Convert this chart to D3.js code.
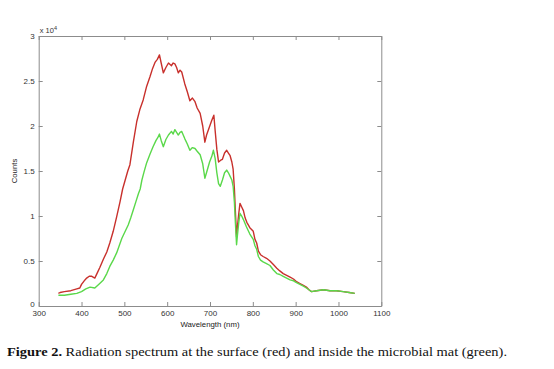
<!DOCTYPE html>
<html><head><meta charset="utf-8">
<script src="https://cdn.jsdelivr.net/npm/d3@7"></script>
<style>
html,body{margin:0;padding:0;background:#fff;}
svg{display:block;}
</style></head>
<body>
<svg id="chart" width="554" height="369"></svg>
<script>
// Wavelength (nm) and counts (x 10^4)
const redWl = [346,350,360,375,389,396,400,408,412,418,424,431,436,443,451,459,466,474,482,490,496,502,508,513,521,529,536,544,552,560,566,572,577,582,586,591,597,603,610,614,618,622,626,630,634,641,647,653,659,665,670,677,683,688,692,698,704,709,712,716,720,725,729,734,739,743,747,751,754,757,759,762,764,767,770,774,778,782,786,793,801,805,809,813,818,824,832,840,848,856,863,871,879,887,895,902,910,918,925,931,937,949,965,980,995,1011,1025,1038];
const redCounts = [0.14,0.15,0.16,0.17,0.19,0.20,0.24,0.29,0.31,0.33,0.33,0.31,0.36,0.43,0.52,0.60,0.70,0.83,0.99,1.16,1.30,1.40,1.50,1.57,1.82,2.05,2.18,2.29,2.44,2.55,2.64,2.71,2.74,2.79,2.70,2.59,2.65,2.70,2.67,2.70,2.69,2.65,2.59,2.62,2.60,2.47,2.38,2.28,2.31,2.27,2.20,2.14,2.00,1.82,1.90,1.98,2.06,2.12,1.95,1.74,1.60,1.62,1.63,1.70,1.73,1.70,1.67,1.60,1.52,1.30,1.08,0.77,0.88,1.02,1.14,1.10,1.06,0.98,0.93,0.87,0.83,0.74,0.70,0.61,0.57,0.55,0.53,0.50,0.46,0.42,0.39,0.36,0.34,0.32,0.30,0.27,0.25,0.23,0.21,0.18,0.16,0.17,0.18,0.17,0.17,0.16,0.15,0.14];
const greenWl = [346,360,375,389,400,410,420,431,440,451,459,466,474,482,488,494,502,509,515,521,527,533,537,541,546,552,560,567,574,578,582,586,591,597,603,610,614,618,622,626,630,634,641,647,653,659,665,670,677,683,688,693,699,704,708,712,716,720,724,729,734,739,743,747,751,754,757,759,762,764,767,770,774,778,785,793,801,805,809,813,818,824,832,840,848,856,863,871,879,887,895,902,910,918,925,931,937,949,965,980,995,1011,1025,1038];
const greenCounts = [0.12,0.12,0.13,0.14,0.16,0.19,0.21,0.20,0.24,0.29,0.36,0.44,0.51,0.59,0.67,0.75,0.83,0.90,0.98,1.07,1.16,1.25,1.30,1.40,1.49,1.59,1.69,1.77,1.84,1.87,1.91,1.84,1.77,1.85,1.90,1.94,1.91,1.96,1.93,1.90,1.93,1.94,1.86,1.80,1.73,1.76,1.75,1.72,1.68,1.58,1.42,1.50,1.60,1.66,1.73,1.64,1.48,1.36,1.33,1.40,1.48,1.51,1.48,1.44,1.40,1.33,1.15,0.95,0.68,0.78,0.92,1.03,1.00,0.96,0.88,0.80,0.74,0.67,0.63,0.55,0.51,0.49,0.47,0.45,0.40,0.36,0.35,0.33,0.31,0.29,0.28,0.26,0.24,0.22,0.20,0.18,0.16,0.17,0.18,0.17,0.17,0.16,0.15,0.14];
const xTicks = [300,400,500,600,700,800,900,1000,1100];
const yTicks = [0,0.5,1,1.5,2,2.5,3];
const xLabel = "Wavelength (nm)";
const yLabel = "Counts";
const captionBold = "Figure 2.";
const captionText = " Radiation spectrum at the surface (red) and inside the microbial mat (green).";

const svg = d3.select("#chart");
const L = 38.7, R = 381.3, T = 36, B = 306;
const x = d3.scaleLinear().domain([300,1100]).range([L,R]);
const y = d3.scaleLinear().domain([0,3]).range([B,T]);
const axisCol = "#8c8c8c", textCol = "#333";
const sans = "'Liberation Sans', Arial, sans-serif";

const g = svg.append("g");

// axes with inward ticks
const fmt = d => d3.format("~g")(d);
const axB = g.append("g").attr("transform",`translate(0,${B})`)
  .call(d3.axisBottom(x).tickValues(xTicks).tickSizeInner(-4).tickSizeOuter(0).tickPadding(4).tickFormat(fmt));
const axT = g.append("g").attr("transform",`translate(0,${T})`)
  .call(d3.axisTop(x).tickValues(xTicks).tickSizeInner(-4).tickSizeOuter(0).tickFormat(""));
const axL = g.append("g").attr("transform",`translate(${L},0)`)
  .call(d3.axisLeft(y).tickValues(yTicks).tickSizeInner(-4).tickSizeOuter(0).tickPadding(4).tickFormat(fmt));
const axR = g.append("g").attr("transform",`translate(${R},0)`)
  .call(d3.axisRight(y).tickValues(yTicks).tickSizeInner(-4).tickSizeOuter(0).tickFormat(""));
[axB,axT,axL,axR].forEach(a=>{
  a.selectAll("path.domain").attr("stroke",axisCol).attr("stroke-width",1);
  a.selectAll(".tick line").attr("stroke",axisCol);
  a.selectAll(".tick text").attr("fill",textCol).style("font-family",sans).style("font-size","8px");
});
// nudge the "0" label up slightly so it clears the "300" label
axL.selectAll(".tick text").filter(d => d === 0).attr("dy","0.1em");

// lines
const line = (wl, c) => d3.line().x((d,i)=>x(wl[i])).y(d=>y(d))(c);
g.append("path").attr("d", line(redWl, redCounts)).attr("fill","none")
  .attr("stroke","#c8302c").attr("stroke-width",1.4).attr("stroke-linejoin","round");
g.append("path").attr("d", line(greenWl, greenCounts)).attr("fill","none")
  .attr("stroke","#5ad84a").attr("stroke-width",1.4).attr("stroke-linejoin","round");

// exponent label
const ex = g.append("text").attr("x",L+1).attr("y",T-3).attr("fill",textCol)
  .style("font-family",sans).style("font-size","7.5px");
ex.append("tspan").text("x 10");
ex.append("tspan").attr("dy",-3).style("font-size","5.5px").text("4");

// axis labels
g.append("text").attr("x",(L+R)/2).attr("y",327).attr("text-anchor","middle").attr("fill","#222")
  .style("font-family",sans).style("font-size","7.8px").text(xLabel);
g.append("text").attr("transform",`translate(17,${(T+B)/2}) rotate(-90)`).attr("text-anchor","middle").attr("fill","#222")
  .style("font-family",sans).style("font-size","7.8px").text(yLabel);

// caption
const cap = svg.append("text").attr("x",7).attr("y",356).attr("fill","#111")
  .style("font-family","'Liberation Serif', 'DejaVu Serif', serif").style("font-size","13.5px")
  .attr("textLength",500).attr("lengthAdjust","spacingAndGlyphs");
cap.append("tspan").style("font-weight","bold").text(captionBold);
cap.append("tspan").text(captionText);
</script>
</body></html>
